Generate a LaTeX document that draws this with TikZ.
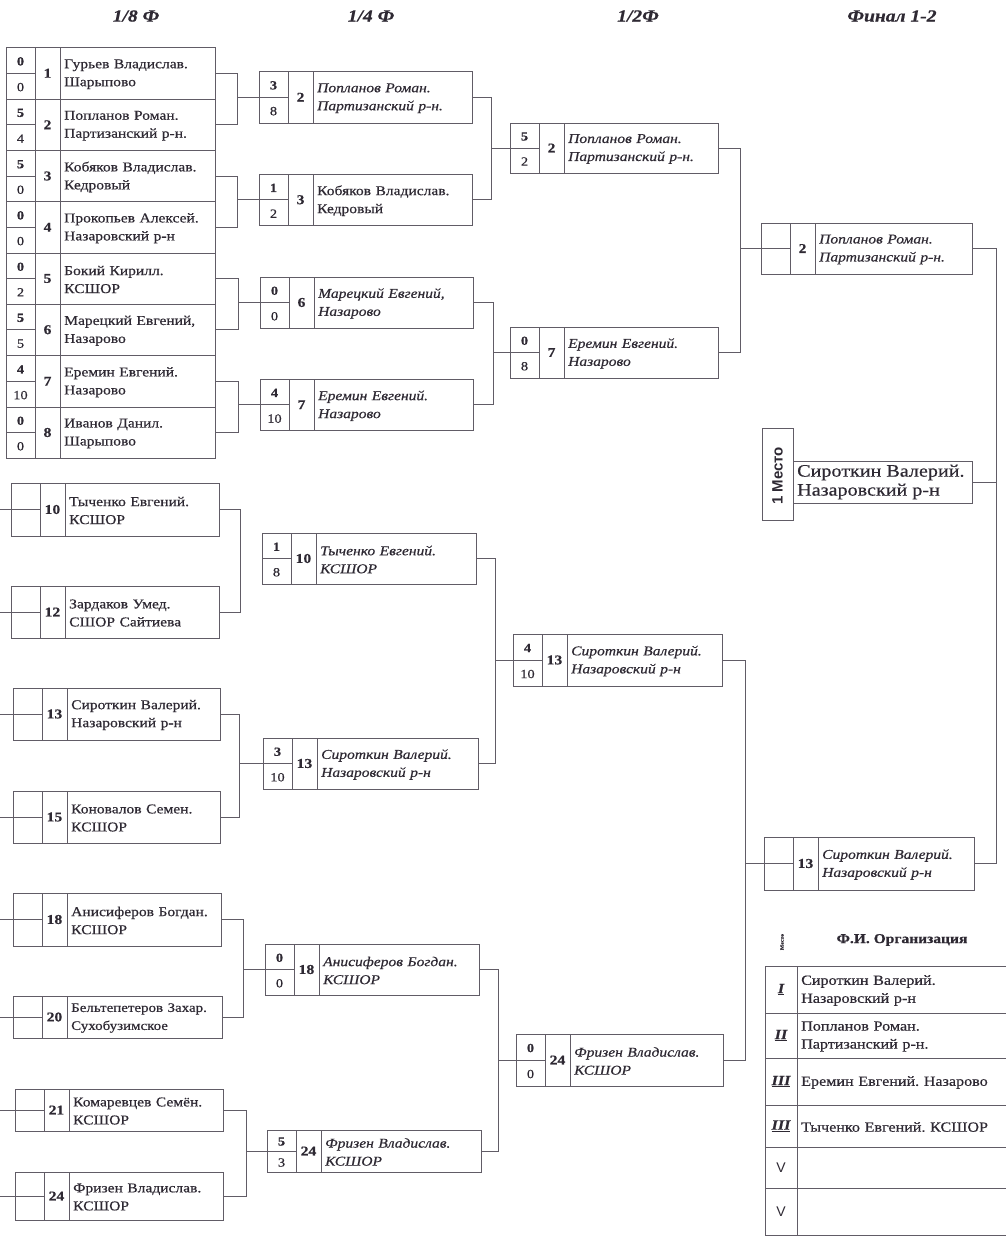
\documentclass[tikz,border=0pt]{standalone}
\usepackage{fontspec}
\setmainfont{Liberation Serif}[FakeStretch=1.15, FakeBold=0.5]
\newfontfamily\plsans{Liberation Sans}
\usetikzlibrary{calc}
\definecolor{ink}{HTML}{2E2933}
\definecolor{rule}{HTML}{615C66}
\newcommand\nmfont{\fontsize{13.5}{18}\selectfont}
\newcommand\sdfont{\fontsize{13.5}{15}\selectfont\bfseries}
\newcommand\sctfont{\fontsize{12.5}{14}\selectfont\bfseries}
\newcommand\scbfont{\fontsize{12.5}{14}\selectfont}
\tikzset{
  cellbox/.style={draw=rule, line width=0.9pt, inner sep=0pt, outer sep=0pt},
  conn/.style={draw=rule, line width=0.9pt},
  nametext/.style={text=ink, font=\nmfont, align=left},
  hdr/.style={text=ink, font=\fontsize{17}{19}\selectfont\bfseries\itshape},
}
% #1 id, #2 x-left, #3 y-top, #4 y-bottom, #5 x-right, #6 seed, #7 name, #8 top score, #9 bottom score
\newcommand\match[9]{%
  \pgfmathsetmacro\mh{#4-#3}%
  \pgfmathsetmacro\mw{#5-#2-54}%
  \pgfmathsetmacro\tw{\mw-6}%
  \node[cellbox, minimum width=29pt, minimum height=\mh pt, anchor=north west] (#1a) at (#2,#3) {};
  \node[cellbox, minimum width=25pt, minimum height=\mh pt, anchor=north west, font=\sdfont, text=ink] (#1b) at (#1a.north east) {#6};
  \node[cellbox, minimum width=\mw pt, minimum height=\mh pt, anchor=north west] (#1) at (#1b.north east) {};
  \node[anchor=west, text width=\tw pt, inner sep=0pt, nametext] (#1t) at ($(#1.west)+(4,1)$) {#7};
  \draw[conn] (#1a.west) -- (#1a.east);
  \node[font=\sctfont, text=ink, inner sep=0pt] (#1u) at ($(#1a.center)!0.5!(#1a.north)+(0,1)$) {#8};
  \node[font=\scbfont, text=ink, inner sep=0pt] (#1d) at ($(#1a.center)!0.5!(#1a.south)+(0,1)$) {#9};
}
% #1 upper, #2 lower, #3 bracket coordinate
\newcommand\bracketonly[3]{%
  \draw[conn] (#1.east) -- (#1.east -| #3) -- (#2.east -| #3) -- (#2.east);
}
% #1 upper, #2 lower, #3 next box id, #4 bracket coordinate
\newcommand\bracket[4]{%
  \bracketonly{#1}{#2}{#4}%
  \draw[conn] (#3a.west) -- (#3a.west -| #4);
}
% #1 id, #2 y-top, #3 y-bottom, #4 label, #5 text
\newcommand\placerow[5]{%
  \pgfmathsetmacro\rh{#3-#2}%
  \node[cellbox, minimum width=32pt, minimum height=\rh pt, anchor=north west, text=ink] (#1p) at (765,#2) {#4};
  \node[cellbox, minimum width=220pt, minimum height=\rh pt, anchor=north west] (#1n) at (#1p.north east) {};
  \node[anchor=west, text width=205pt, inner sep=0pt, text=ink, align=left, font=\fontsize{14}{18}\selectfont] (#1t) at ($(#1n.west)+(4,1)$) {#5};
}
\newcommand\romlab[1]{\fontsize{14}{15}\selectfont\bfseries\itshape\underline{#1}}
\newcommand\vlab{\plsans\fontsize{14}{15}\selectfont V}

\begin{document}
\frenchspacing
\begin{tikzpicture}[x=1pt,y=-1pt]
\fill[white] (0,0) rectangle (1005,1238);
\useasboundingbox (0,0) rectangle (1005,1238);

% headers
\node[hdr] (h1) at (136,16) {1/8 Ф};
\node[hdr] (h2) at (371,16) {1/4 Ф};
\node[hdr] (h3) at (638,16) {1/2Ф};
\node[hdr] (h4) at (892,16) {Финал 1-2};

% round 1, top half
\match{ea1}{6}{47.5}{99}{215}{1}{Гурьев Владислав.\\Шарыпово}{0}{0}
\match{ea2}{6}{99}{150.5}{215}{2}{Попланов Роман.\\Партизанский р-н.}{5}{4}
\match{ea3}{6}{150.5}{201.5}{215}{3}{Кобяков Владислав.\\Кедровый}{5}{0}
\match{ea4}{6}{201.5}{253}{215}{4}{Прокопьев Алексей.\\Назаровский р-н}{0}{0}
\match{ea5}{6}{253}{304}{215}{5}{Бокий Кирилл.\\КСШОР}{0}{2}
\match{ea6}{6}{304}{355.5}{215}{6}{Марецкий Евгений,\\Назарово}{5}{5}
\match{ea7}{6}{355.5}{407}{215}{7}{Еремин Евгений.\\Назарово}{4}{10}
\match{ea8}{6}{407}{458}{215}{8}{Иванов Данил.\\Шарыпово}{0}{0}

% round 1, bottom half
\match{ea10}{11}{483}{536}{219}{10}{Тыченко Евгений.\\КСШОР}{}{}
\match{ea12}{11}{586}{638}{219}{12}{Зардаков Умед.\\СШОР Сайтиева}{}{}
\match{ea13}{13}{688}{740}{220}{13}{Сироткин Валерий.\\Назаровский р-н}{}{}
\match{ea15}{13}{791}{843}{220}{15}{Коновалов Семен.\\КСШОР}{}{}
\match{ea18}{13}{893}{946}{221}{18}{Анисиферов Богдан.\\КСШОР}{}{}
\match{ea20}{13}{996}{1038}{222}{20}{\fontsize{13}{16}\selectfont Бельтепетеров Захар.\\Сухобузимское}{}{}
\match{ea21}{15}{1089}{1131}{223}{21}{Комаревцев Семён.\\КСШОР}{}{}
\match{ea24}{15}{1172}{1220}{223}{24}{Фризен Владислав.\\КСШОР}{}{}

% round 2
\match{eb2}{259}{71.5}{123}{472}{2}{\itshape Попланов Роман.\\Партизанский р-н.}{3}{8}
\match{eb3}{259}{174}{225.5}{472}{3}{Кобяков Владислав.\\Кедровый}{1}{2}
\match{eb6}{260}{277}{328}{473}{6}{\itshape Марецкий Евгений,\\Назарово}{0}{0}
\match{eb7}{260}{379}{430.5}{473}{7}{\itshape Еремин Евгений.\\Назарово}{4}{10}
\match{eb10}{262}{533}{584}{476}{10}{\itshape Тыченко Евгений.\\КСШОР}{1}{8}
\match{eb13}{263}{738}{789}{478}{13}{\itshape Сироткин Валерий.\\Назаровский р-н}{3}{10}
\match{eb18}{265}{944}{995}{479}{18}{\itshape Анисиферов Богдан.\\КСШОР}{0}{0}
\match{eb24}{267}{1130}{1172}{481}{24}{\itshape Фризен Владислав.\\КСШОР}{5}{3}

% round 3
\match{ec2}{510}{123}{173}{718}{2}{\itshape Попланов Роман.\\Партизанский р-н.}{5}{2}
\match{ec7}{510}{327}{378}{718}{7}{\itshape Еремин Евгений.\\Назарово}{0}{8}
\match{ec13}{513}{634}{686}{722}{13}{\itshape Сироткин Валерий.\\Назаровский р-н}{4}{10}
\match{ec24}{516}{1034}{1086}{723}{24}{\itshape Фризен Владислав.\\КСШОР}{0}{0}

% final
\match{ed2}{761}{223}{274}{972}{2}{\itshape Попланов Роман.\\Партизанский р-н.}{}{}
\match{ed13}{764}{837}{890}{974}{13}{\itshape Сироткин Валерий.\\Назаровский р-н}{}{}

% first place
\node[cellbox, minimum width=31pt, minimum height=92pt, anchor=north west] (place) at (762,428) {};
\node[rotate=90, text=ink, font=\plsans\bfseries\fontsize{15}{17}\selectfont] (placelbl) at ($(place.center)+(0,2)$) {1 Место};
\node[cellbox, minimum width=179pt, minimum height=42pt, anchor=north west] (firstn) at (793,461) {};
\node[anchor=west, inner sep=0pt, text=ink, align=left, font=\fontsize{17.5}{19}\selectfont] (firstt) at ($(firstn.west)+(4,0)$) {Сироткин Валерий.\\Назаровский р-н};

% bracket coordinates
\coordinate (k1) at (237,0);
\coordinate (k2) at (237,0);
\coordinate (k3) at (238,0);
\coordinate (k4) at (238,0);
\coordinate (k5) at (491,0);
\coordinate (k6) at (493,0);
\coordinate (k7) at (740,0);
\coordinate (k8) at (240,0);
\coordinate (k9) at (239,0);
\coordinate (k10) at (243,0);
\coordinate (k11) at (246,0);
\coordinate (k12) at (495,0);
\coordinate (k13) at (498,0);
\coordinate (k14) at (745,0);
\coordinate (k15) at (996,0);
\coordinate (edge) at (0,0);

\bracket{ea1}{ea2}{eb2}{k1}
\bracket{ea3}{ea4}{eb3}{k2}
\bracket{ea5}{ea6}{eb6}{k3}
\bracket{ea7}{ea8}{eb7}{k4}
\bracket{eb2}{eb3}{ec2}{k5}
\bracket{eb6}{eb7}{ec7}{k6}
\bracket{ec2}{ec7}{ed2}{k7}
\bracketonly{ea10}{ea12}{k8}
\bracket{ea13}{ea15}{eb13}{k9}
\bracket{ea18}{ea20}{eb18}{k10}
\bracket{ea21}{ea24}{eb24}{k11}
\bracket{eb10}{eb13}{ec13}{k12}
\bracket{eb18}{eb24}{ec24}{k13}
\bracket{ec13}{ec24}{ed13}{k14}
\draw[conn] (ed2.east) -- (ed2.east -| k15) -- (ed13.east -| k15) -- (ed13.east);
\draw[conn] (firstn.east) -- (firstn.east -| k15);

% stubs from the left edge
\foreach \b in {ea10,ea12,ea13,ea15,ea18,ea20,ea21,ea24}
  \draw[conn] (\b a.west) -- (\b a.west -| edge);

% results table
\node[rotate=90, text=ink, font=\fontsize{5}{6}\selectfont\bfseries] (mesto) at (782,942) {Место};
\node[text=ink, font=\fontsize{13.5}{15}\selectfont\bfseries] (fio) at (902,940) {Ф.И. Организация};
\placerow{r1}{966}{1013}{\romlab{I}}{Сироткин Валерий.\\Назаровский р-н}
\placerow{r2}{1013}{1058}{\romlab{II}}{Попланов Роман.\\Партизанский р-н.}
\placerow{r3}{1058}{1105}{\romlab{III}}{Еремин Евгений. Назарово}
\placerow{r4}{1105}{1147}{\romlab{III}}{Тыченко Евгений. КСШОР}
\placerow{r5}{1147}{1188}{\vlab}{}
\placerow{r6}{1188}{1235}{\vlab}{}
\end{tikzpicture}
\end{document}
